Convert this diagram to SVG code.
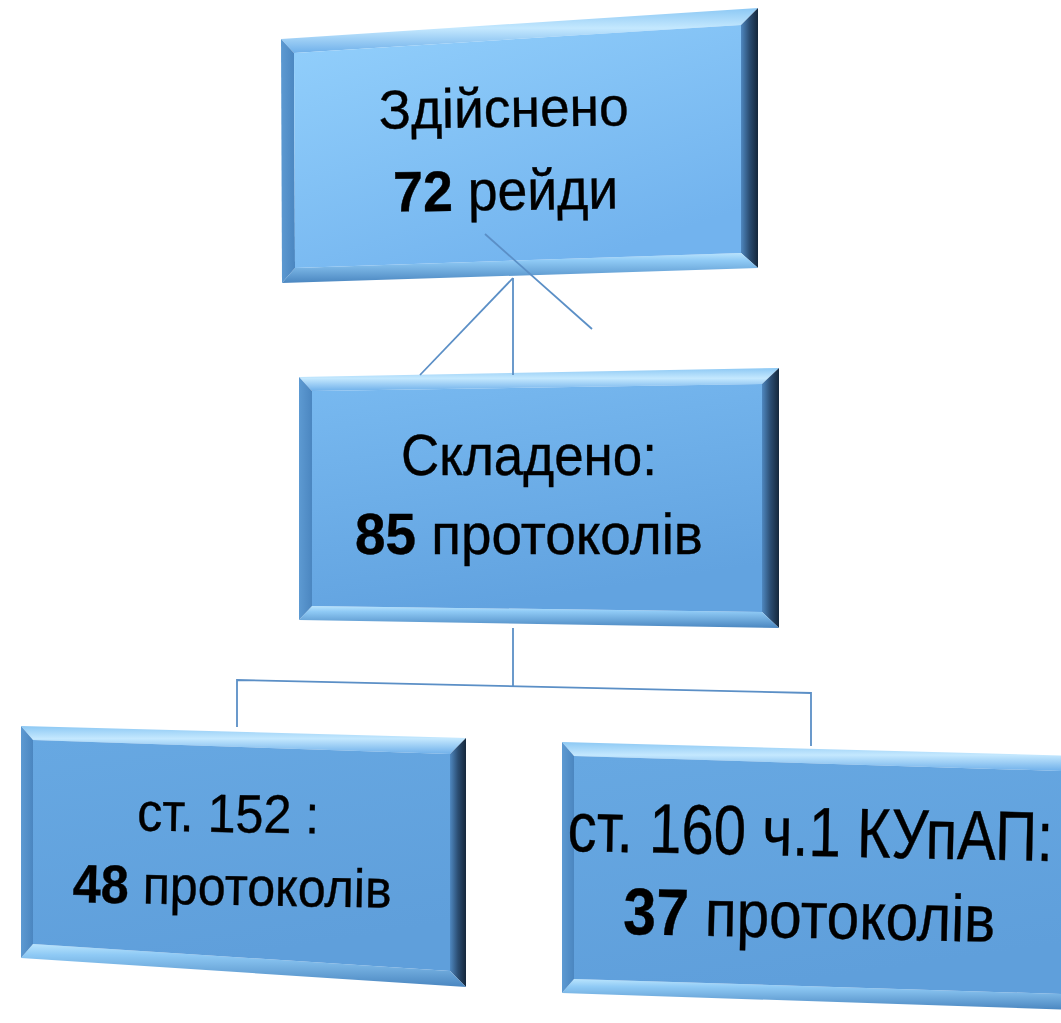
<svg xmlns="http://www.w3.org/2000/svg" width="1061" height="1023" viewBox="0 0 1061 1023">
<defs>
<linearGradient id="gTop" x1="0" y1="0" x2="0.6" y2="1"><stop offset="0" stop-color="#93d0fc"/><stop offset="1" stop-color="#72b3ee"/></linearGradient>
<linearGradient id="gMid" x1="0" y1="0" x2="0.3" y2="1"><stop offset="0" stop-color="#78b9f0"/><stop offset="1" stop-color="#62a3e0"/></linearGradient>
<linearGradient id="gLow" x1="0" y1="0" x2="0.3" y2="1"><stop offset="0" stop-color="#67a8e2"/><stop offset="1" stop-color="#5f9fdb"/></linearGradient>
<linearGradient id="bTop" x1="0" y1="0" x2="0" y2="1"><stop offset="0" stop-color="#8cc8f4"/><stop offset="0.45" stop-color="#c4e8fe"/><stop offset="1" stop-color="#6fb0ea"/></linearGradient>
<linearGradient id="bBot" x1="0" y1="0" x2="0" y2="1"><stop offset="0" stop-color="#b9e4fd"/><stop offset="0.25" stop-color="#8fcaf5"/><stop offset="1" stop-color="#4a86c0"/></linearGradient>
<linearGradient id="bLeft" x1="0" y1="0" x2="1" y2="0"><stop offset="0" stop-color="#5d9ad2"/><stop offset="1" stop-color="#4b86c0"/></linearGradient>
<linearGradient id="bRight" x1="0" y1="0" x2="1" y2="0"><stop offset="0" stop-color="#4f88c0"/><stop offset="0.5" stop-color="#2b4d72"/><stop offset="1" stop-color="#15273b"/></linearGradient>
</defs>
<style>
.bt{fill:url(#bTop)}
.bb{fill:url(#bBot)}
.bl{fill:url(#bLeft)}
.br{fill:url(#bRight)}
.t{font-family:"Liberation Sans",Arial,sans-serif;fill:#000;stroke:#000;stroke-width:0.4;text-anchor:middle}
.b{font-weight:bold}
.c{fill:none;stroke:#5b8fc6;stroke-width:1.8}
</style>

<g id="node-raids">
<polygon class="bt" points="281,39 758,8 741,25 294,53"/>
<polygon class="br" points="758,8 758,268 741,253 741,25"/>
<polygon class="bb" points="295,268 741,253 758,268 282,283"/>
<polygon class="bl" points="281,39 294,53 295,268 282,283"/>
<polygon fill="url(#gTop)" points="294,53 741,25 741,253 295,268"/>
<text class="t" font-size="55" x="504" y="127" textLength="250" lengthAdjust="spacingAndGlyphs" transform="rotate(-0.8 504 127)">Здійснено</text>
<text class="t" font-size="57" x="506" y="210" textLength="225" lengthAdjust="spacingAndGlyphs" transform="rotate(-0.8 506 210)"><tspan class="b">72</tspan> рейди</text>
</g>

<g id="node-protocols">
<polygon class="bt" points="299,377 779,368 762,384 312,391"/>
<polygon class="br" points="779,368 779,628 762,612 762,384"/>
<polygon class="bb" points="312,606 762,612 779,628 299,620"/>
<polygon class="bl" points="299,377 312,391 312,606 299,620"/>
<polygon fill="url(#gMid)" points="312,391 762,384 762,612 312,606"/>
<text class="t" font-size="58" x="529" y="475" textLength="256" lengthAdjust="spacingAndGlyphs">Складено:</text>
<text class="t" font-size="58" x="529" y="554" textLength="348" lengthAdjust="spacingAndGlyphs"><tspan class="b">85</tspan> протоколів</text>
</g>

<g id="node-art152">
<polygon class="bt" points="21,726 466,738 450,754 33,740"/>
<polygon class="br" points="466,738 466,987 450,971 450,754"/>
<polygon class="bb" points="33,944 450,971 466,987 21,958"/>
<polygon class="bl" points="21,726 33,740 33,944 21,958"/>
<polygon fill="url(#gLow)" points="33,740 450,754 450,971 33,944"/>
<text class="t" font-size="54" x="228" y="832" textLength="182" lengthAdjust="spacingAndGlyphs" transform="rotate(1 228 832)">ст. 152 :</text>
<text class="t" font-size="54" x="232" y="905" textLength="319" lengthAdjust="spacingAndGlyphs" transform="rotate(1 232 905)"><tspan class="b">48</tspan> протоколів</text>
</g>

<g id="node-art160">
<polygon class="bt" points="562,742 1078,756 1062,771 574,756"/>
<polygon class="br" points="1078,756 1078,1010 1062,994 1062,771"/>
<polygon class="bb" points="574,979 1062,994 1078,1010 562,993"/>
<polygon class="bl" points="562,742 574,756 574,979 562,993"/>
<polygon fill="url(#gLow)" points="574,756 1062,771 1062,994 574,979"/>
<text class="t" font-size="70" x="0" y="0" transform="translate(810 856) rotate(1.2) scale(0.83 1)">ст. 160 ч.1 КУпАП:</text>
<text class="t" font-size="66" x="809" y="938" textLength="372" lengthAdjust="spacingAndGlyphs" transform="rotate(1.2 809 938)"><tspan class="b">37</tspan> протоколів</text>
</g>

<g id="connectors">
<line class="c" x1="513" y1="278" x2="513" y2="375"/>
<line class="c" x1="513" y1="278" x2="420" y2="375"/>
<line class="c" x1="485" y1="234" x2="592" y2="329"/>
<line class="c" x1="513" y1="628" x2="513" y2="686.3"/>
<polyline class="c" points="237,727 237,680 811,693 811,746"/>
</g>
</svg>
